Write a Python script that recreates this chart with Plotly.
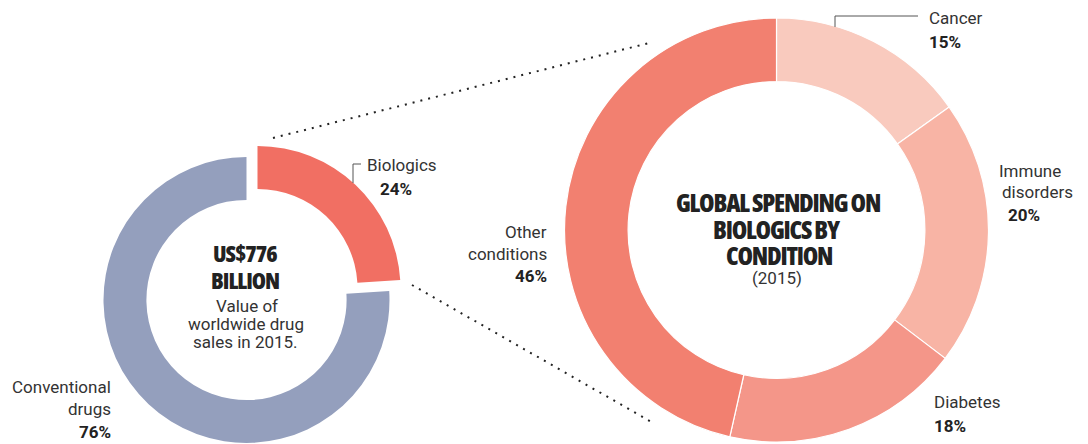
import plotly.graph_objects as go

# ---- data -------------------------------------------------------------
sales_labels = ["Biologics", "Conventional drugs"]
sales_share = [24, 76]                      # % of US$776 billion (2015)
sales_colors = ["#F16F63", "#949FBD"]

condition_labels = ["Cancer", "Immune disorders", "Diabetes", "Other conditions"]
condition_share = [15, 20, 18, 46]          # % of global biologics spending
condition_colors = ["#F9CABE", "#F8B4A5", "#F49689", "#F28070"]

W, H = 1088, 444
TRANSPARENT = "rgba(0,0,0,0)"


def px(x):
    return x / W


def py(y):
    return 1 - y / H


def domain(cx, cy, r):
    """Pie domain (paper units) for a circle centred at pixel (cx, cy)."""
    return dict(x=[(cx - r) / W, (cx + r) / W],
                y=[(H - cy - r) / H, (H - cy + r) / H])


fig = go.Figure()

# Left donut: conventional drugs in place, biologics slice offset outward
conv_colors = [TRANSPARENT if lab == "Biologics" else c
               for lab, c in zip(sales_labels, sales_colors)]
bio_colors = [c if lab == "Biologics" else TRANSPARENT
              for lab, c in zip(sales_labels, sales_colors)]

fig.add_trace(go.Pie(
    labels=sales_labels, values=sales_share, hole=0.70, sort=False,
    direction="clockwise", rotation=0, textinfo="none", showlegend=False,
    marker=dict(colors=conv_colors, line=dict(width=0)),
    domain=domain(246.5, 300, 143), hoverinfo="label+percent",
))
fig.add_trace(go.Pie(
    labels=sales_labels, values=sales_share, hole=0.70, sort=False,
    direction="clockwise", rotation=0, textinfo="none", showlegend=False,
    marker=dict(colors=bio_colors, line=dict(width=0)),
    domain=domain(257.5, 289, 143), hoverinfo="label+percent",
))

# Right donut: biologics spending by condition
fig.add_trace(go.Pie(
    labels=condition_labels, values=condition_share, hole=0.70, sort=False,
    direction="clockwise", rotation=0, textinfo="none", showlegend=False,
    marker=dict(colors=condition_colors, line=dict(width=1.2, color="white")),
    domain=domain(776.5, 230, 212), hoverinfo="label+percent",
))

HEAD = "Open Sans, sans-serif"
BODY = "Roboto, Lato, sans-serif"
TXT = "#333333"
DARK = "#222222"

annotations = []


def label(text, x, y, size=17, color=TXT, family=BODY, weight="normal",
          xanchor="center"):
    annotations.append(dict(
        text=text, x=px(x), y=py(y), xref="paper", yref="paper",
        xanchor=xanchor, yanchor="middle", showarrow=False,
        font=dict(family=family, size=size, color=color, weight=weight),
    ))


def headline(text, x, y, size, spacing):
    styled = f'<span style="font-stretch:75%;letter-spacing:{spacing}px">{text}</span>'
    label(styled, x, y, size=size, color=DARK, family=HEAD, weight=800)


# centre text, left donut
headline("US$776", 245, 253, 23, -1)
headline("BILLION", 245, 280, 23, -1)
label("Value of", 247, 306, size=17)
label("worldwide drug", 245.5, 324, size=17)
label("sales in 2015.", 245.5, 342, size=17)

# centre text, right donut
headline("GLOBAL SPENDING ON", 777.5, 202, 25, -1.2)
headline("BIOLOGICS BY", 777, 229, 25, -1.2)
headline("CONDITION", 778.5, 255, 25, -1.2)
label("(2015)", 776.5, 278, size=17)

# slice labels, left donut
label(sales_labels[0], 402, 165)
label(f"{sales_share[0]}%", 395.5, 189, color=DARK, weight="bold")
label("Conventional", 113, 387, xanchor="right")
label("drugs", 113, 409, xanchor="right")
label(f"{sales_share[1]}%", 113, 432, color=DARK, weight="bold", xanchor="right")

# slice labels, right donut
label(condition_labels[0], 927, 18, xanchor="left")
label(f"{condition_share[0]}%", 927, 42, color=DARK, weight="bold", xanchor="left")
label("Immune", 1030, 171)
label("disorders", 1037, 192)
label(f"{condition_share[1]}%", 1024, 215, color=DARK, weight="bold")
label(condition_labels[2], 932, 402, xanchor="left")
label(f"{condition_share[2]}%", 932, 426, color=DARK, weight="bold", xanchor="left")
label("Other", 549, 232, xanchor="right")
label("conditions", 549, 254, xanchor="right")
label(f"{condition_share[3]}%", 549, 276, color=DARK, weight="bold", xanchor="right")

shapes = []


def seg(x0, y0, x1, y1, **line):
    shapes.append(dict(type="line", xref="paper", yref="paper",
                       x0=px(x0), y0=py(y0), x1=px(x1), y1=py(y1), line=line))


# leader brackets
seg(353, 164, 361, 164, color="#555555", width=1)
seg(353, 164, 353, 183, color="#555555", width=1)
seg(835, 16, 918, 16, color="#555555", width=1)
seg(835, 16, 835, 27, color="#555555", width=1)

# dotted connectors from the biologics slice to the right donut
seg(273, 138, 653, 42, color="#222222", width=2, dash="2px,6px")
seg(412, 285, 655, 424, color="#222222", width=2, dash="2px,6px")

fig.update_layout(
    width=W, height=H, margin=dict(l=0, r=0, t=0, b=0),
    paper_bgcolor="white", plot_bgcolor="white",
    annotations=annotations, shapes=shapes,
)

fig.write_html("out.html")
